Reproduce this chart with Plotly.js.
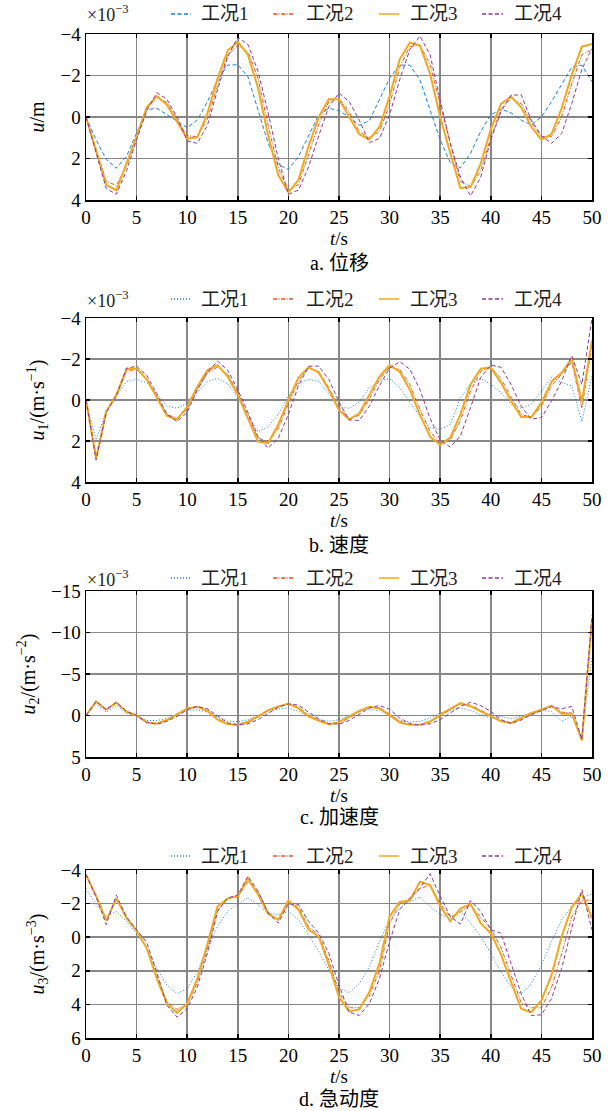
<!DOCTYPE html>
<html><head><meta charset="utf-8">
<script src="https://cdn.plot.ly/plotly-3.0.1.min.js"></script>
<style>html,body{margin:0;padding:0;background:#fff}</style>
</head><body><div id="chart" style="width:612px;height:1111px"></div>
<script>
const tSec = [0,1,2,3,4,5,6,7,8,9,10,11,12,13,14,15,16,17,18,19,20,21,22,23,24,25,26,27,28,29,30,31,32,33,34,35,36,37,38,39,40,41,42,43,44,45,46,47,48,49,50];
const seriesNames = ['工况1','工况2','工况3','工况4'];
const xTicks = [0,5,10,15,20,25,30,35,40,45,50];

// a. 位移 (×10^-3 m)
const dispC1 = [0,1.1,2.05,2.47,1.9,0.75,-0.35,-0.42,-0.1,0.22,0.51,0.15,-0.74,-1.78,-2.5,-2.52,-1.94,-0.34,1.27,2.3,2.52,1.9,0.87,-0.1,-0.42,-0.3,0,0.4,0.18,-0.82,-1.87,-2.5,-2.5,-1.78,-0.34,1.1,2.2,2.45,1.75,0.7,-0.1,-0.38,-0.2,0.15,0.38,0,-0.74,-1.6,-2.4,-2.5,-1.7];
const dispC2 = [0,1.6,3.1,3.3,2.35,1.0,-0.4,-0.95,-0.7,0.15,0.9,0.95,0.1,-1.5,-3.0,-3.45,-3.15,-1.85,0.4,2.45,3.55,3.25,1.85,0.35,-0.75,-0.9,-0.25,0.7,1.0,0.7,-0.6,-2.4,-3.4,-3.45,-2.55,-0.6,1.3,3.1,3.35,2.6,1.0,-0.35,-0.9,-0.65,0.25,0.95,0.95,0,-1.6,-3.0,-3.25];
const dispC3 = [0,1.65,3.27,3.53,2.23,0.95,-0.47,-1.01,-0.58,0.25,1.04,0.98,-0.18,-1.86,-3.2,-3.63,-2.99,-1.4,0.9,2.8,3.63,3.03,1.4,0,-0.87,-0.85,0,0.83,1.08,0.47,-1.0,-2.78,-3.58,-3.44,-2.1,0,1.75,3.43,3.38,2.25,0.6,-0.63,-0.98,-0.47,0.47,1.09,0.82,-0.42,-2.03,-3.39,-3.52];
const dispC4 = [0,1.7,3.45,3.72,2.6,1.1,-0.3,-1.17,-0.85,0,1.15,1.27,0.4,-1.3,-2.9,-3.84,-3.5,-2.2,-0.2,2.0,3.72,3.52,2.4,0.9,-0.5,-1.15,-0.75,0.15,1.24,1.03,-0.1,-1.8,-3.25,-3.9,-3.0,-0.8,1.27,2.9,3.8,2.9,1.1,-0.25,-1.05,-1.07,0.15,0.9,1.27,0.8,-0.65,-2.3,-3.3];

// b. 速度 (×10^-3 m/s)
const velC1 = [0,1.95,0.5,-0.2,-0.9,-1.0,-0.85,-0.3,0.3,0.4,0.15,-0.35,-0.9,-1.05,-0.8,-0.1,0.7,1.55,1.3,0.7,-0.2,-0.8,-1.02,-0.9,-0.3,0.35,0.4,0.1,-0.6,-0.95,-1.05,-0.6,0.1,0.8,1.35,1.43,1.2,-0.1,-0.8,-1.05,-0.76,-0.36,0.2,0.4,0.2,-0.44,-1.1,-0.85,-0.68,1.05,-1.18];
const velC2 = [0,2.75,0.6,-0.2,-1.4,-1.5,-1.05,-0.2,0.7,0.9,0.45,-0.5,-1.35,-1.6,-1.25,-0.35,0.75,1.85,2.05,1.4,0.2,-0.95,-1.55,-1.4,-0.6,0.35,0.9,0.75,-0.05,-1.0,-1.6,-1.5,-0.75,0.45,1.55,2.1,1.95,1.0,-0.45,-1.4,-1.6,-1.05,-0.15,0.7,0.85,0.3,-0.7,-1.3,-1.85,0.4,-2.7];
const velC3 = [0,2.85,0.57,-0.25,-1.5,-1.55,-1.0,-0.1,0.78,0.95,0.33,-0.65,-1.46,-1.7,-1.14,-0.24,0.9,2.03,2.1,1.2,0,-1.1,-1.6,-1.33,-0.5,0.5,0.95,0.65,-0.25,-1.14,-1.7,-1.38,-0.5,0.73,1.8,2.18,1.83,0.7,-0.76,-1.53,-1.58,-0.85,0.05,0.83,0.83,0.13,-0.9,-1.33,-2.03,0.08,-2.9];
const velC4 = [0,2.93,0.6,-0.2,-1.55,-1.65,-1.2,-0.3,0.7,1.05,0.6,-0.5,-1.35,-1.9,-1.45,-0.5,0.6,1.8,2.35,1.87,0.7,-0.7,-1.65,-1.65,-1.0,0.1,0.97,1.0,0.3,-0.7,-1.55,-1.87,-1.5,-0.5,0.9,1.95,2.3,1.75,0.37,-1.1,-1.7,-1.6,-0.76,0.3,0.93,0.86,0.05,-0.93,-2.16,-0.76,-4.0];

// c. 加速度 (×10^-3 m/s^2)
const accC1 = [0,-1.4,-0.4,-1.2,-0.3,0.1,0.6,0.6,0.35,-0.2,-0.6,-0.7,-0.4,0.2,0.7,0.75,0.5,0,-0.5,-0.8,-0.9,-0.5,0.1,0.5,0.7,0.5,0,-0.5,-0.75,-0.6,0,0.6,0.8,0.7,0.3,-0.3,-0.6,-0.9,-0.6,-0.1,0.3,0.1,0.4,0.1,-0.3,-0.6,-0.5,0.7,0.1,2.5,-7.0];
const accC2 = [0,-1.7,-0.7,-1.55,-0.45,0,0.85,1.0,0.6,-0.1,-0.8,-1.05,-0.65,0.35,1.0,1.1,0.85,0.2,-0.55,-1.05,-1.4,-1.0,-0.05,0.55,1.05,0.9,0.3,-0.45,-1.0,-0.95,-0.2,0.7,1.1,1.1,0.8,0.05,-0.7,-1.4,-1.25,-0.6,0,0.6,0.95,0.4,-0.2,-0.65,-1.15,-0.4,-0.3,3.0,-11.6];
const accC3 = [0,-1.7,-0.7,-1.55,-0.45,0,0.85,0.95,0.55,-0.15,-0.85,-1.05,-0.55,0.5,1.05,1.1,0.75,0.1,-0.65,-1.1,-1.4,-0.85,0.1,0.65,1.05,0.8,0.15,-0.55,-1.05,-0.85,-0.05,0.85,1.1,1.1,0.72,-0.1,-0.8,-1.5,-1.1,-0.5,0.1,0.7,0.9,0.3,-0.3,-0.7,-1.2,-0.2,-0.2,3.0,-11.5];
const accC4 = [0,-1.7,-0.7,-1.6,-0.5,0,0.8,1.05,0.7,0.1,-0.7,-1.1,-0.8,0.1,0.9,1.15,1.0,0.5,-0.3,-1.0,-1.4,-1.25,-0.4,0.4,1.0,1.05,0.6,-0.2,-0.9,-1.2,-0.75,0.3,1.0,1.15,1.0,0.5,-0.3,-1.1,-1.6,-1.2,-0.5,0.5,0.95,0.55,-0.1,-0.6,-1.05,-0.8,-1.1,2.9,-12.1];

// d. 急动度 (m/s^3)
const jerkC1 = [-2.9,-1.94,-1.24,-1.54,-0.94,-0.24,0.66,1.86,2.86,3.36,3.06,2.06,0.66,-0.64,-1.54,-1.98,-2.34,-1.94,-1.44,-1.34,-1.54,-1.04,-0.14,0.86,1.96,3.0,3.32,2.76,1.76,0.26,-1.04,-1.74,-2.14,-2.38,-1.84,-1.34,-1.14,-1.54,-0.84,-0.04,0.96,2.06,2.96,3.36,2.76,1.66,0.26,-1.04,-1.84,-2.34,-2.58];
const jerkC2 = [-3.7,-2.5,-1.0,-2.3,-1.2,-0.4,0.6,2.3,3.85,4.3,4.0,2.7,0.7,-1.6,-2.3,-2.4,-3.3,-2.7,-1.5,-1.0,-2.0,-1.8,-0.6,-0.15,1.4,3.3,4.2,4.2,3.5,2.0,-0.8,-2.0,-2.2,-2.9,-3.1,-2.0,-1.2,-1.5,-1.9,-1.2,-0.5,0.6,2.2,3.9,4.2,4.2,3.0,1.0,-1.2,-2.2,-2.2];
const jerkC3 = [-3.7,-2.44,-1.0,-2.3,-1.14,-0.38,0.66,2.46,3.96,4.5,3.96,2.46,0.4,-1.84,-2.3,-2.44,-3.5,-2.54,-1.38,-1.04,-2.18,-1.64,-0.44,-0.04,1.66,3.56,4.42,4.3,3.26,1.56,-1.24,-2.1,-2.18,-3.3,-3.1,-1.84,-0.94,-1.7,-1.98,-0.84,-0.24,1.02,2.66,4.26,4.46,3.76,2.26,-0.04,-1.78,-2.6,-1.14];
const jerkC4 = [-3.75,-2.4,-0.75,-2.5,-1.2,-0.45,0.3,2.1,4.06,4.76,4.26,2.96,0.96,-1.54,-2.34,-2.5,-3.64,-2.74,-1.44,-0.84,-1.98,-1.94,-0.94,-0.24,0.96,2.86,4.46,4.66,3.96,2.46,0.26,-1.64,-2.34,-2.94,-3.78,-2.44,-1.24,-0.78,-2.18,-1.54,-0.44,-0.24,1.56,3.36,4.66,4.62,3.66,1.86,-0.54,-2.84,-0.44];

const FONT = '"Liberation Serif", "Times New Roman", "Noto Sans CJK SC", serif';
const W = 612, H = 1111, L = 86, R = 20;
const py = v => 1 - v / H;             // pixel row -> paper
const px = v => (v - L) / (W - L - R); // pixel col -> paper

const panels = [
  {series:[dispC1,dispC2,dispC3,dispC4], top:34, bot:200, range:[4,-4], dtick:2, ytitle:'<i>u</i>/m', cap:'a. 位移', legY:14, capY:263, exp:true, c1dash:'4px,2.5px'},
  {series:[velC1,velC2,velC3,velC4], top:318, bot:482, range:[4,-4], dtick:2, ytitle:'<i>u</i><sub>1</sub>/(m·s<sup>−1</sup>)', cap:'b. 速度', legY:299, capY:545, exp:true, c1dash:'1px,2px'},
  {series:[accC1,accC2,accC3,accC4], top:591, bot:757, range:[5,-15], dtick:5, ytitle:'<i>u</i><sub>2</sub>/(m·s<sup>−2</sup>)', cap:'c. 加速度', legY:578, capY:817, exp:true, c1dash:'1px,2px'},
  {series:[jerkC1,jerkC2,jerkC3,jerkC4], top:870, bot:1038, range:[6,-4], dtick:2, ytitle:'<i>u</i><sub>3</sub>/(m·s<sup>−3</sup>)', cap:'d. 急动度', legY:856, capY:1099, exp:false, c1dash:'1px,2px'}
];

// legend layout (pixel columns): sample start, sample end, text start
const legSampleX0 = [171, 273, 379, 482];
const legSampleX1 = [191, 294, 399, 503];
const legTextX = [199, 304, 408, 512];

const traces = [];
const layout = {
  width: W, height: H,
  margin: {l: L, r: R, t: 0, b: 0, autoexpand: false},
  paper_bgcolor: '#fff', plot_bgcolor: '#fff',
  font: {family: FONT, size: 19, color: '#000'},
  annotations: [], shapes: [], showlegend: false
};

panels.forEach((p, i) => {
  const n = i === 0 ? '' : String(i + 1);
  const styles = [
    {color:'#1f7fcf', width:1, dash:p.c1dash},
    {color:'#e0582a', width:1, dash:'4px,1.5px,1px,1.5px'},
    {color:'#f0a91e', width:2, dash:'solid'},
    {color:'#8a3a9a', width:1, dash:'4px,2.5px'}
  ];
  p.series.forEach((s, k) => {
    traces.push({
      x: tSec, y: s, type: 'scatter', mode: 'lines', name: seriesNames[k],
      line: styles[k], xaxis: 'x' + n, yaxis: 'y' + n, showlegend: false
    });
    layout.shapes.push({
      type: 'line', xref: 'paper', yref: 'paper',
      x0: px(legSampleX0[k]), x1: px(legSampleX1[k]), y0: py(p.legY), y1: py(p.legY),
      line: {color: styles[k].color, width: styles[k].width === 2 ? 1.5 : 1.3, dash: styles[k].dash}
    });
    layout.annotations.push({
      text: seriesNames[k], xref: 'paper', yref: 'paper',
      x: px(legTextX[k]), y: py(p.legY), xanchor: 'left', yanchor: 'middle',
      showarrow: false, font: {family: FONT, size: 19, color: '#222'}
    });
  });
  const axBase = {
    showgrid: true, gridcolor: '#878787', gridwidth: 1.6, zeroline: false,
    showline: true, linecolor: '#000', linewidth: 1.5, mirror: 'ticks',
    ticks: 'inside', ticklen: 4, tickwidth: 1.5, tickcolor: '#000',
    tickfont: {family: FONT, size: 19, color: '#000'}, automargin: false
  };
  layout['xaxis' + n] = Object.assign({}, axBase, {
    domain: [0, 1], anchor: 'y' + n, range: [0, 50], tickvals: xTicks,
    title: {text: '<i>t</i>/s', font: {family: FONT, size: 19}, standoff: 2}
  });
  layout['yaxis' + n] = Object.assign({}, axBase, {
    domain: [py(p.bot), py(p.top)], anchor: 'x' + n, range: p.range, dtick: p.dtick,
    title: {text: p.ytitle, font: {family: FONT, size: 20}, standoff: 10}
  });
  layout.annotations.push({
    text: p.cap, xref: 'paper', yref: 'paper', x: 0.5, y: py(p.capY),
    xanchor: 'center', yanchor: 'middle', showarrow: false,
    font: {family: FONT, size: 20, color: '#000'}
  });
  if (p.exp) {
    layout.annotations.push({
      text: '×10<sup>−3</sup>', xref: 'paper', yref: 'paper', x: px(85), y: py(p.legY),
      xanchor: 'left', yanchor: 'middle', showarrow: false,
      font: {family: FONT, size: 18, color: '#222'}
    });
  }
});

Plotly.newPlot('chart', traces, layout, {staticPlot: true, displayModeBar: false});
</script></body></html>
